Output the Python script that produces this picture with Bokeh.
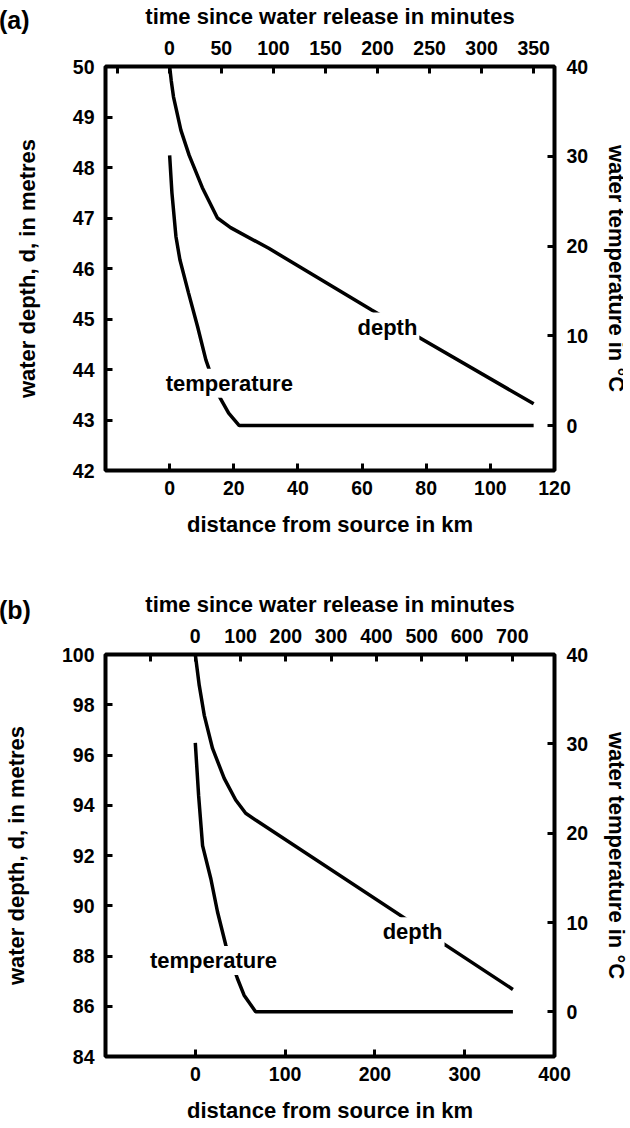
from bokeh.plotting import figure
from bokeh.models import Range1d, LinearAxis, FixedTicker, Label, Div
from bokeh.layouts import column
from bokeh.embed import file_html
from bokeh.resources import INLINE

FONT = "Liberation Sans"

# ---------------- data: panel (a) ----------------
a_depth_km = [0, 0.5, 1.2, 3.5, 6.1, 10.2, 14.9, 19.0, 30.9, 63.0, 113.5]
a_depth_m = [50.0, 49.72, 49.4, 48.74, 48.24, 47.6, 47.0, 46.81, 46.4, 45.18, 43.32]
a_temp_km = [0, 0.72, 1.96, 3.2, 5.9, 8.7, 11.3, 14.9, 18.4, 21.7, 113.5]
a_temp_c = [30.1, 25.9, 21.07, 18.47, 14.76, 11.04, 7.32, 3.61, 1.38, 0.0, 0.0]
a_km_ticks = [0, 20, 40, 60, 80, 100, 120]
a_min_ticks = [-50, 0, 50, 100, 150, 200, 250, 300, 350]
a_depth_ticks = [42, 43, 44, 45, 46, 47, 48, 49, 50]

# ---------------- data: panel (b) ----------------
b_depth_km = [0, 4.4, 10.0, 19.2, 32.2, 45.0, 56.1, 67.2, 353.7]
b_depth_m = [100.0, 98.77, 97.58, 96.26, 95.07, 94.21, 93.68, 93.41, 86.67]
b_temp_km = [0, 3.7, 8.1, 17.3, 24.7, 34.0, 46.9, 54.3, 67.2, 353.7]
b_temp_c = [30.1, 24.2, 18.6, 14.9, 11.2, 7.45, 3.73, 1.87, 0.0, 0.0]
b_km_ticks = [0, 100, 200, 300, 400]
b_min_ticks = [-100, 0, 100, 200, 300, 400, 500, 600, 700]
b_depth_ticks = [84, 86, 88, 90, 92, 94, 96, 98, 100]

temp_ticks = [0, 10, 20, 30, 40]


def style_axis(ax, ticks, hidden=None, standoff=11, label_standoff=10):
    ax.ticker = FixedTicker(ticks=ticks)
    if hidden is not None:
        ax.major_label_overrides = {hidden: ""}
    ax.axis_line_color = None
    ax.major_tick_in = 7
    ax.major_tick_out = 0
    ax.major_tick_line_width = 3
    ax.major_tick_line_color = "black"
    ax.minor_tick_line_color = None
    ax.major_label_text_font = FONT
    ax.major_label_text_font_style = "bold"
    ax.major_label_text_font_size = "19.5px"
    ax.major_label_text_color = "black"
    ax.major_label_standoff = standoff
    ax.axis_label_text_font = FONT
    ax.axis_label_text_font_style = "bold"
    ax.axis_label_text_font_size = "22px"
    ax.axis_label_text_color = "black"
    ax.axis_label_standoff = label_standoff


def make_panel(xr, tr, yr, km_ticks, min_ticks, depth_ticks,
               dkm, dval, tkm, tval, lbl_temp, lbl_depth,
               btop, bbottom, fh):
    p = figure(frame_width=449, frame_height=fh,
               x_range=Range1d(*xr), y_range=Range1d(*yr),
               output_backend="svg", toolbar_location=None,
               min_border_left=96, min_border_right=77,
               min_border_top=btop, min_border_bottom=bbottom)
    p.extra_x_ranges = {"time": Range1d(*tr)}
    p.extra_y_ranges = {"temp": Range1d(-5, 40)}
    p.grid.visible = False
    p.outline_line_color = "black"
    p.outline_line_width = 4
    p.background_fill_color = "white"
    p.border_fill_color = "white"

    xb = p.xaxis[0]
    xb.axis_label = "distance from source in km"
    style_axis(xb, km_ticks, standoff=10, label_standoff=14)

    yl = p.yaxis[0]
    yl.axis_label = "water depth, d, in metres"
    style_axis(yl, depth_ticks, standoff=11, label_standoff=30)

    top = LinearAxis(x_range_name="time", axis_label="time since water release in minutes")
    style_axis(top, min_ticks, hidden=min_ticks[0], standoff=12, label_standoff=9)
    p.add_layout(top, "above")

    right = LinearAxis(y_range_name="temp", axis_label="water temperature in °C")
    style_axis(right, temp_ticks, standoff=12, label_standoff=13)
    p.add_layout(right, "right")

    p.line(dkm, dval, line_width=3.5, line_color="black")
    p.line(tkm, tval, line_width=3.5, line_color="black", y_range_name="temp")

    for (x, y, txt) in [(lbl_temp[0], lbl_temp[1], "temperature"),
                        (lbl_depth[0], lbl_depth[1], "depth")]:
        p.add_layout(Label(x=x, y=y, text=txt, text_align="center",
                           text_baseline="alphabetic", text_font=FONT,
                           text_font_style="bold", text_font_size="22px",
                           text_color="black", background_fill_color="white",
                           padding=2))
    return p


def tag_div(txt, top):
    html = ('<span style="position:absolute; left:-1px; top:%dpx; '
            'font-family:\'Liberation Sans\', sans-serif; font-weight:bold; '
            'font-size:25px; line-height:25px; color:black; white-space:nowrap;">%s</span>'
            % (top, txt))
    return Div(text=html, width=40, height=0,
               styles={"position": "relative", "z-index": "10", "overflow": "visible",
                       "height": "0px", "min-height": "0px", "max-height": "0px",
                       "flex": "0 0 0px", "margin": "0px", "padding": "0px"})


pa = make_panel((-20, 120), (-61.3, 370), (42, 50),
                a_km_ticks, a_min_ticks, a_depth_ticks,
                a_depth_km, a_depth_m, a_temp_km, a_temp_c,
                (18.6, 43.73), (67.9, 44.84),
                58, 90, 404)

pb = make_panel((-100, 400), (-198.3, 793.3), (84, 100),
                b_km_ticks, b_min_ticks, b_depth_ticks,
                b_depth_km, b_depth_m, b_temp_km, b_temp_c,
                (20.3, 87.82), (242, 88.97),
                94, 64, 402)

layout = column(tag_div("(a)", 8), pa, tag_div("(b)", 38), pb, spacing=0)
open("out.html", "w").write(file_html(layout, INLINE))
